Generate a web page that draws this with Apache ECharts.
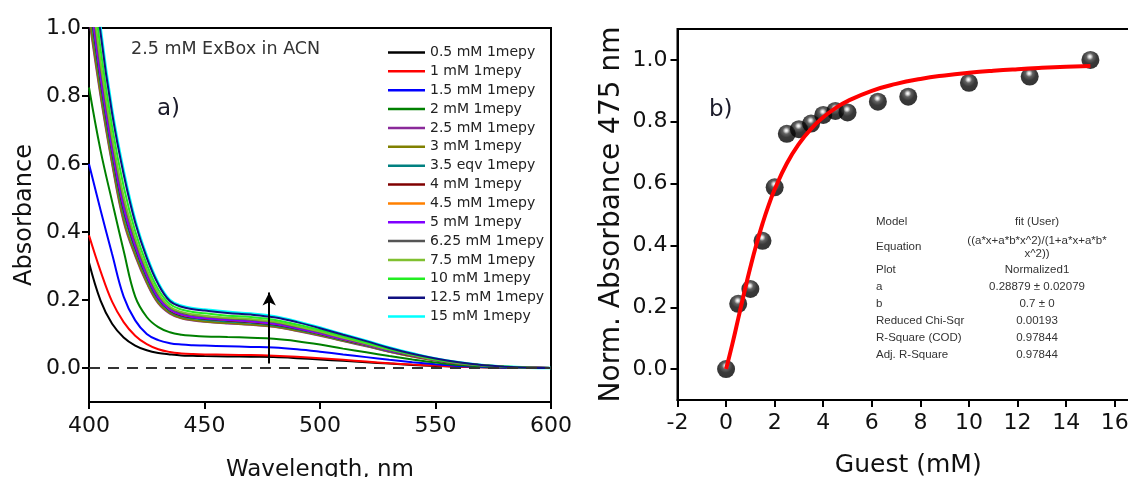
<!DOCTYPE html>
<html>
<head>
<meta charset="utf-8">
<script src="https://cdn.jsdelivr.net/npm/echarts@6/dist/echarts.min.js"></script>
<style>
html,body{margin:0;padding:0;background:#fff;}
#chart{width:1128px;height:477px;}
</style>
</head>
<body>
<div id="chart"></div>
<script>
// ---------- Data: panel a) UV-Vis spectra ----------
const wavelengths = [400,405,410,415,420,425,430,435,440,445,450,460,470,480,490,500,510,520,530,540,550,560,570,580,590,600];
const seriesNames = ['0.5 mM 1mepy','1 mM 1mepy','1.5 mM 1mepy','2 mM 1mepy','2.5 mM 1mepy','3 mM 1mepy','3.5 eqv 1mepy','4 mM 1mepy','4.5 mM 1mepy','5 mM 1mepy','6.25 mM 1mepy','7.5 mM 1mepy','10 mM 1mepy','12.5 mM 1mepy','15 mM 1mepy'];
const seriesColors = ['#000000','#ff0000','#0000ff','#008000','#8a2a9a','#808000','#008080','#800000','#ff8000','#8000ff','#555555','#80c030','#22ee22','#101080','#00ffff'];

const abs_0_5  = [0.31,0.198,0.13,0.09,0.066,0.052,0.044,0.04,0.037,0.036,0.035,0.034,0.033,0.032,0.029,0.025,0.021,0.017,0.013,0.009,0.006,0.004,0.002,0.001,0,0];
const abs_1    = [0.39,0.285,0.195,0.135,0.095,0.07,0.055,0.047,0.043,0.041,0.04,0.039,0.038,0.036,0.033,0.029,0.024,0.019,0.014,0.01,0.007,0.004,0.002,0.001,0,0];
const abs_1_5  = [0.6,0.465,0.335,0.21,0.14,0.1,0.082,0.073,0.069,0.067,0.066,0.064,0.062,0.06,0.055,0.048,0.04,0.032,0.024,0.017,0.011,0.006,0.003,0.001,0,0];
const abs_2    = [0.825,0.64,0.49,0.345,0.21,0.15,0.12,0.105,0.098,0.095,0.093,0.091,0.089,0.086,0.079,0.069,0.057,0.046,0.035,0.025,0.016,0.009,0.005,0.002,0.001,0];
const abs_2_5  = [1.03,0.8,0.6,0.43,0.33,0.25,0.19,0.16,0.146,0.14,0.136,0.131,0.127,0.121,0.109,0.095,0.079,0.064,0.048,0.034,0.022,0.013,0.007,0.003,0.001,0];
const abs_3    = [1.042,0.808,0.606,0.436,0.334,0.253,0.192,0.162,0.147,0.141,0.137,0.132,0.128,0.122,0.11,0.096,0.08,0.065,0.048,0.034,0.022,0.013,0.007,0.003,0.001,0];
const abs_3_5  = [1.079,0.834,0.627,0.456,0.348,0.264,0.2,0.167,0.152,0.146,0.142,0.137,0.133,0.126,0.114,0.099,0.082,0.067,0.05,0.036,0.023,0.014,0.007,0.003,0.001,0];
const abs_4    = [1.103,0.85,0.64,0.468,0.356,0.27,0.205,0.17,0.155,0.149,0.145,0.14,0.135,0.129,0.116,0.101,0.084,0.068,0.051,0.036,0.024,0.014,0.008,0.003,0.001,0];
const abs_4_5  = [1.12,0.862,0.65,0.477,0.363,0.275,0.209,0.172,0.157,0.151,0.147,0.142,0.137,0.131,0.118,0.102,0.085,0.069,0.052,0.037,0.024,0.014,0.008,0.003,0.001,0];
const abs_5    = [1.114,0.858,0.646,0.474,0.36,0.273,0.207,0.172,0.157,0.15,0.146,0.141,0.137,0.13,0.117,0.102,0.085,0.069,0.051,0.037,0.024,0.014,0.008,0.003,0.001,0];
const abs_6_25 = [1.158,0.888,0.67,0.496,0.376,0.285,0.216,0.178,0.162,0.156,0.152,0.146,0.142,0.135,0.121,0.106,0.088,0.071,0.053,0.038,0.025,0.015,0.008,0.003,0.001,0];
const abs_7_5  = [1.175,0.9,0.68,0.505,0.383,0.29,0.22,0.18,0.165,0.158,0.154,0.148,0.144,0.137,0.123,0.107,0.089,0.072,0.054,0.039,0.025,0.015,0.008,0.004,0.001,0];
const abs_10   = [1.23,0.938,0.71,0.534,0.402,0.305,0.231,0.188,0.172,0.165,0.161,0.154,0.15,0.142,0.128,0.112,0.093,0.075,0.056,0.04,0.026,0.016,0.008,0.004,0.001,0];
const abs_12_5 = [1.3,0.986,0.749,0.57,0.428,0.324,0.246,0.197,0.18,0.173,0.169,0.162,0.157,0.149,0.135,0.117,0.098,0.079,0.059,0.042,0.028,0.017,0.009,0.004,0.001,0];
const abs_15   = [1.32,1.0,0.76,0.58,0.435,0.33,0.25,0.2,0.183,0.176,0.172,0.165,0.16,0.152,0.137,0.119,0.099,0.08,0.06,0.043,0.028,0.017,0.009,0.004,0.001,0];
const spectra = [abs_0_5,abs_1,abs_1_5,abs_2,abs_2_5,abs_3,abs_3_5,abs_4,abs_4_5,abs_5,abs_6_25,abs_7_5,abs_10,abs_12_5,abs_15];

const arrowX = 478, arrowFrom = 0.013, arrowTo = 0.222;
const wlTicks = [400,450,500,550,600];
const absTicks = [0,0.2,0.4,0.6,0.8,1.0];

// ---------- Data: panel b) titration ----------
const guestConc = [0,0.5,1,1.5,2,2.5,3,3.5,4,4.5,5,6.25,7.5,10,12.5,15];
const normAbs   = [0,0.211,0.259,0.415,0.588,0.761,0.776,0.794,0.822,0.835,0.83,0.865,0.881,0.926,0.946,1.0];
const fitX = [0,0.25,0.5,0.75,1,1.25,1.5,1.75,2,2.5,3,3.5,4,4.5,5,6,7,8,9,10,11,12,13,14,15];
const fitY = [0,0.0782,0.1631,0.2483,0.3293,0.4036,0.4703,0.5293,0.5809,0.6650,0.7287,0.7771,0.8145,0.8436,0.8666,0.9001,0.9226,0.9385,0.9499,0.9585,0.9651,0.9702,0.9743,0.9776,0.9803];
const guestTicks = [-2,0,2,4,6,8,10,12,14,16];
const normTicks = [0,0.2,0.4,0.6,0.8,1.0];

const tableLabels = ['Model','Equation','Plot','a','b','Reduced Chi-Sqr','R-Square (COD)','Adj. R-Square'];
const tableValues = ['fit (User)','((a*x+a*b*x^2)/(1+a*x+a*b*\nx^2))','Normalized1','0.28879 ± 0.02079','0.7 ± 0','0.00193','0.97844','0.97844'];

// ---------- Chart ----------
const FONT = 'DejaVu Sans';
const chart = echarts.init(document.getElementById('chart'), null, {renderer:'canvas'});

const axisCommon = {
  axisLine:{show:true,onZero:false,lineStyle:{color:'#000',width:2}},
  axisTick:{show:true,inside:false,length:7,lineStyle:{color:'#000',width:2}},
  splitLine:{show:false},
  axisLabel:{fontFamily:FONT,fontSize:22,color:'#111'},
  nameTextStyle:{fontFamily:FONT,color:'#111'}
};
function fmt1(v){ return (Math.round(v*10)/10).toFixed(1); }

const series = [];
spectra.forEach((arr,i)=>{
  series.push({
    name:seriesNames[i], type:'line', xAxisIndex:0, yAxisIndex:0,
    data: wavelengths.map((w,j)=>[w,arr[j]]),
    smooth:0.4, symbol:'none', clip:true,
    lineStyle:{color:seriesColors[i], width: i===14 ? 2.6 : 2},
    itemStyle:{color:seriesColors[i]},
    z: i===14 ? 1 : 2
  });
});
// zero dashed line and arrow
series.push({
  type:'line', xAxisIndex:0, yAxisIndex:0, data:[], silent:true,
  markLine:{
    silent:true, animation:false,
    label:{show:false},
    data:[
      [{coord:[400,0],symbol:'none',lineStyle:{color:'#333',width:2,type:[11,8]}},{coord:[600,0],symbol:'none'}],
      [{coord:[arrowX,arrowFrom],symbol:'none',lineStyle:{color:'#000',width:2,type:'solid'}},{coord:[arrowX,arrowTo],symbol:'arrow',symbolSize:[10,13]}]
    ]
  },
  z:5
});
// panel b
series.push({
  name:'data', type:'scatter', xAxisIndex:1, yAxisIndex:1,
  data: guestConc.map((g,i)=>[g,normAbs[i]]),
  symbol:'circle', symbolSize:18,
  itemStyle:{
    color:{type:'radial',x:0.47,y:0.32,r:0.7,colorStops:[
      {offset:0,color:'#ffffff'},{offset:0.1,color:'#d8d8d8'},{offset:0.28,color:'#3a3a3a'},{offset:0.55,color:'#080808'},{offset:1,color:'#000000'}]}
  },
  z:3
});
series.push({
  name:'fit', type:'line', xAxisIndex:1, yAxisIndex:1,
  data: fitX.map((x,i)=>[x,fitY[i]]),
  smooth:true, symbol:'none',
  lineStyle:{color:'#ff0000',width:4},
  z:4
});

const graphics = [
  {type:'text', left:131, top:40, style:{text:'2.5 mM ExBox in ACN', font:'17.5px "DejaVu Sans"', fill:'#333'}},
  {type:'text', left:157, top:98, style:{text:'a)', font:'23px "DejaVu Sans"', fill:'#1b1b2a'}},
  {type:'text', left:709, top:99, style:{text:'b)', font:'23px "DejaVu Sans"', fill:'#1b1b2a'}}
];
const rowY = [222,247,270,287,304,321,338,355];
tableLabels.forEach((t,i)=>{
  graphics.push({type:'text', x:876, y:rowY[i], style:{text:t, font:'11.5px "Liberation Sans"', fill:'#333', textAlign:'left', textVerticalAlign:'middle'}});
});
tableValues.forEach((t,i)=>{
  graphics.push({type:'text', x:1037, y:rowY[i], style:{text:t, font:'11.5px "Liberation Sans"', fill:'#333', textAlign:'center', textVerticalAlign:'middle', lineHeight:13}});
});

const option = {
  backgroundColor:'#fff',
  animation:false,
  grid:[
    {left:89, top:28, width:462, height:374, show:true, borderColor:'#000', borderWidth:2, backgroundColor:'transparent', containLabel:false, outerBoundsMode:'none'},
    {left:677.5, top:29, width:461.5, height:371, show:true, borderColor:'#000', borderWidth:2, backgroundColor:'transparent', containLabel:false, outerBoundsMode:'none'}
  ],
  xAxis:[
    Object.assign({}, axisCommon, {
      type:'value', gridIndex:0, min:400, max:600, interval:50,
      name:'Wavelength, nm', nameLocation:'middle', nameGap:57,
      nameTextStyle:{fontFamily:FONT,fontSize:23,color:'#111'},
      axisLabel:{fontFamily:FONT,fontSize:22,color:'#111',margin:13,customValues:wlTicks},
      axisTick:{show:true,inside:false,length:7,lineStyle:{color:'#000',width:2},customValues:wlTicks}
    }),
    Object.assign({}, axisCommon, {
      type:'value', gridIndex:1, min:-2, max:17, interval:1,
      name:'Guest (mM)', nameLocation:'middle', nameGap:53,
      nameTextStyle:{fontFamily:FONT,fontSize:25,color:'#111'},
      axisLabel:{fontFamily:FONT,fontSize:22,color:'#111',margin:12,customValues:guestTicks},
      axisTick:{show:true,inside:false,length:7,lineStyle:{color:'#000',width:2},customValues:guestTicks}
    })
  ],
  yAxis:[
    Object.assign({}, axisCommon, {
      type:'value', gridIndex:0, min:-0.1, max:1.0, interval:0.1,
      name:'Absorbance', nameLocation:'middle', nameGap:52, nameRotate:90,
      nameTextStyle:{fontFamily:FONT,fontSize:24,color:'#111'},
      axisLabel:{fontFamily:FONT,fontSize:22,color:'#111',margin:8,formatter:fmt1,customValues:absTicks},
      axisTick:{show:true,inside:false,length:7,lineStyle:{color:'#000',width:2},customValues:absTicks}
    }),
    Object.assign({}, axisCommon, {
      type:'value', gridIndex:1, min:-0.1, max:1.1, interval:0.1,
      name:'Norm. Absorbance 475 nm', nameLocation:'middle', nameGap:52, nameRotate:90,
      nameTextStyle:{fontFamily:FONT,fontSize:28,color:'#111'},
      axisLabel:{fontFamily:FONT,fontSize:22,color:'#111',margin:10,formatter:fmt1,customValues:normTicks},
      axisTick:{show:true,inside:false,length:7,lineStyle:{color:'#000',width:2},customValues:normTicks}
    })
  ],
  legend:{
    orient:'vertical', left:388, top:45.5, padding:0,
    icon:'rect', itemWidth:37, itemHeight:2.5, itemGap:4.86,
    data:seriesNames,
    textStyle:{fontFamily:FONT,fontSize:14,lineHeight:14,color:'#222'},
    selectedMode:false
  },
  graphic:graphics,
  series:series
};
chart.setOption(option);
</script>
</body>
</html>
